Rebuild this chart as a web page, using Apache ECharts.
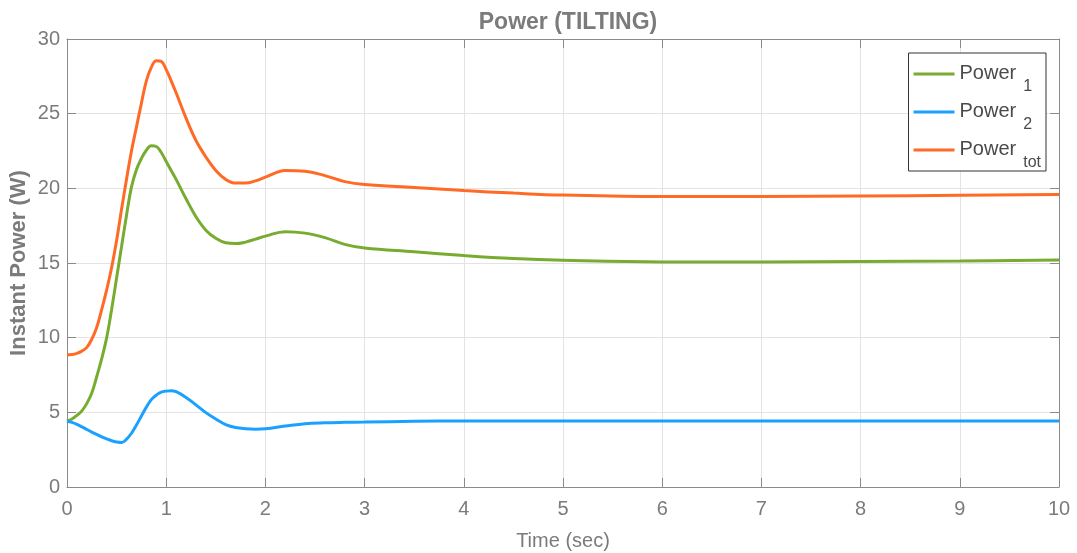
<!DOCTYPE html>
<html>
<head>
<meta charset="utf-8">
<script src="https://cdn.jsdelivr.net/npm/echarts@6/dist/echarts.min.js"></script>
<style>
  html, body { margin: 0; padding: 0; background: #fff; }
  #chart { width: 1077px; height: 553px; }
</style>
</head>
<body>
<div id="chart"></div>
<script>
// ---- data ----
const time = [0, 0.05, 0.1, 0.15, 0.2, 0.25, 0.3, 0.35, 0.4, 0.45, 0.5, 0.55, 0.6, 0.65, 0.7, 0.75, 0.8, 0.85, 0.9, 0.95, 1.0, 1.05, 1.1, 1.2, 1.3, 1.4, 1.5, 1.6, 1.7, 1.8, 1.9, 2.0, 2.2, 2.4, 2.6, 2.8, 3.0, 3.5, 4.0, 4.5, 5.0, 6.0, 7.0, 8.0, 9.0, 10.0];
const power1 = [4.42, 4.55, 4.8, 5.1, 5.6, 6.3, 7.4, 8.6, 10.0, 11.9, 14.0, 16.1, 18.2, 20.1, 21.25, 22.0, 22.55, 22.85, 22.8, 22.4, 21.8, 21.2, 20.6, 19.3, 18.1, 17.2, 16.65, 16.35, 16.3, 16.4, 16.6, 16.8, 17.1, 17.0, 16.7, 16.25, 16.0, 15.75, 15.5, 15.3, 15.18, 15.07, 15.07, 15.1, 15.14, 15.2];
const power2 = [4.42, 4.33, 4.2, 4.03, 3.85, 3.68, 3.52, 3.36, 3.22, 3.1, 3.02, 2.98, 3.2, 3.6, 4.15, 4.75, 5.35, 5.85, 6.15, 6.35, 6.42, 6.45, 6.38, 6.0, 5.5, 4.98, 4.55, 4.18, 3.98, 3.9, 3.87, 3.9, 4.08, 4.24, 4.3, 4.33, 4.35, 4.4, 4.42, 4.42, 4.42, 4.42, 4.42, 4.42, 4.42, 4.42];
const powerTot = [8.85, 8.87, 8.95, 9.1, 9.35, 9.9, 10.7, 11.9, 13.2, 14.7, 16.5, 18.6, 20.6, 22.5, 24.1, 25.7, 27.2, 28.1, 28.55, 28.5, 27.95, 27.2, 26.4, 24.7, 23.2, 22.1, 21.2, 20.6, 20.35, 20.35, 20.5, 20.75, 21.2, 21.15, 20.85, 20.45, 20.25, 20.05, 19.85, 19.68, 19.55, 19.45, 19.45, 19.49, 19.53, 19.58];
const seriesNames = ['Power_1', 'Power_2', 'Power_tot'];
const xTicks = [0, 1, 2, 3, 4, 5, 6, 7, 8, 9, 10];
const yTicks = [0, 5, 10, 15, 20, 25, 30];

const colors = ['#77ac30', '#1aa1ff', '#ff6a26'];
const textGray = '#7b7b7b';
const axisGray = '#8a8a8a';
const fontFamily = 'Liberation Sans, Arial, Helvetica, sans-serif';

function pairs(vals) { return time.map((t, i) => [t, vals[i]]); }

const chart = echarts.init(document.getElementById('chart'), null, { renderer: 'canvas' });

const tickStyle = { show: true, inside: true, length: 9, lineStyle: { color: axisGray, width: 1 } };

const option = {
  backgroundColor: '#ffffff',
  animation: false,
  title: {
    text: 'Power (TILTING)',
    left: 563,
    textAlign: 'center',
    top: 6,
    textStyle: { fontFamily, fontSize: 23, fontWeight: 'bold', color: textGray }
  },
  grid: { left: 67, right: 18, top: 39, bottom: 66, containLabel: false, outerBoundsMode: 'none' },
  legend: {
    orient: 'vertical',
    right: 31,
    top: 53,
    data: seriesNames,
    icon: 'rect',
    itemWidth: 41,
    itemHeight: 3,
    itemGap: 6,
    padding: [10, 5, 0, 5],
    backgroundColor: '#ffffff',
    borderColor: '#333333',
    borderWidth: 1,
    formatter: function (name) {
      const parts = name.split('_');
      return '{m|' + parts[0] + '}{s|' + parts[1] + '}';
    },
    textStyle: {
      fontFamily,
      rich: {
        m: { fontFamily, fontSize: 20, color: '#4a4a4a', lineHeight: 22, padding: [0, 0, 0, 0], verticalAlign: 'top' },
        s: { fontFamily, fontSize: 16, color: '#4a4a4a', lineHeight: 16, padding: [16, 0, 0, 7], verticalAlign: 'top' }
      }
    }
  },
  xAxis: [
    {
      type: 'value', min: xTicks[0], max: xTicks[xTicks.length - 1], interval: 1,
      name: 'Time (sec)', nameLocation: 'middle', nameGap: 44, nameMoveOverlap: false,
      nameTextStyle: { fontFamily, fontSize: 20, color: textGray },
      axisLine: { show: true, onZero: false, lineStyle: { color: axisGray, width: 1 } },
      axisTick: tickStyle,
      axisLabel: { fontFamily, fontSize: 20, color: textGray, margin: 12 },
      splitLine: { show: true, lineStyle: { color: '#e3e3e3', width: 1 } }
    },
    {
      type: 'value', position: 'top', min: xTicks[0], max: xTicks[xTicks.length - 1], interval: 1,
      axisLine: { show: true, onZero: false, lineStyle: { color: axisGray, width: 1 } },
      axisTick: tickStyle, axisLabel: { show: false }, splitLine: { show: false }
    }
  ],
  yAxis: [
    {
      type: 'value', min: yTicks[0], max: yTicks[yTicks.length - 1], interval: 5,
      name: 'Instant Power (W)', nameLocation: 'middle', nameGap: 37, nameMoveOverlap: false,
      nameTextStyle: { fontFamily, fontSize: 22, fontWeight: 'bold', color: textGray },
      axisLine: { show: true, onZero: false, lineStyle: { color: axisGray, width: 1 } },
      axisTick: tickStyle,
      axisLabel: { fontFamily, fontSize: 20, color: textGray, margin: 7 },
      splitLine: { show: true, lineStyle: { color: '#e3e3e3', width: 1 } }
    },
    {
      type: 'value', position: 'right', min: yTicks[0], max: yTicks[yTicks.length - 1], interval: 5,
      axisLine: { show: true, onZero: false, lineStyle: { color: axisGray, width: 1 } },
      axisTick: tickStyle, axisLabel: { show: false }, splitLine: { show: false }
    }
  ],
  series: [
    { name: seriesNames[0], type: 'line', data: pairs(power1), smooth: 0.4, showSymbol: false,
      lineStyle: { color: colors[0], width: 3 }, itemStyle: { color: colors[0] }, z: 2 },
    { name: seriesNames[1], type: 'line', data: pairs(power2), smooth: 0.4, showSymbol: false,
      lineStyle: { color: colors[1], width: 3 }, itemStyle: { color: colors[1] }, z: 3 },
    { name: seriesNames[2], type: 'line', data: pairs(powerTot), smooth: 0.4, showSymbol: false,
      lineStyle: { color: colors[2], width: 3 }, itemStyle: { color: colors[2] }, z: 4 }
  ]
};

chart.setOption(option);
</script>
</body>
</html>
